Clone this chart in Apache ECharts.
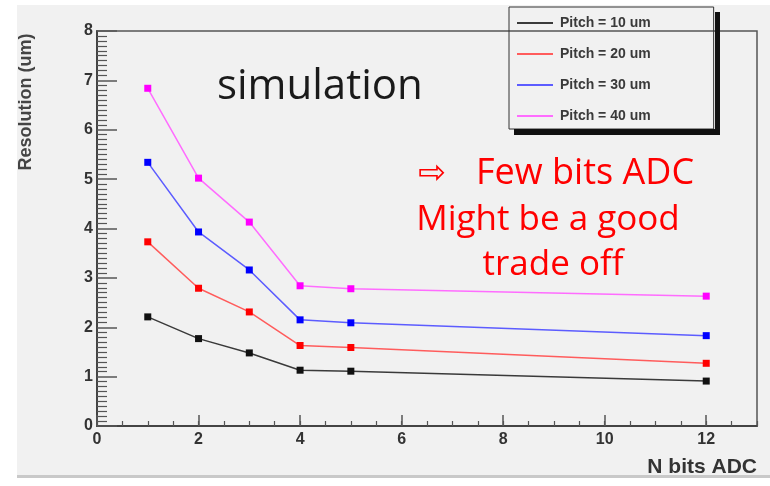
<!DOCTYPE html>
<html>
<head>
<meta charset="utf-8">
<script src="https://cdn.jsdelivr.net/npm/echarts@6/dist/echarts.min.js"></script>
<style>
  html, body { margin: 0; padding: 0; background: #ffffff; }
  #chart { width: 770px; height: 486px; }
</style>
</head>
<body>
<div id="chart"></div>
<script>
// Number of ADC bits simulated
const nBits = [1, 2, 3, 4, 5, 12];

// Resolution (um) for each strip pitch
const pitch10 = [2.21, 1.77, 1.48, 1.13, 1.11, 0.91];
const pitch20 = [3.73, 2.79, 2.31, 1.63, 1.59, 1.27];
const pitch30 = [5.34, 3.93, 3.16, 2.15, 2.09, 1.83];
const pitch40 = [6.84, 5.02, 4.13, 2.84, 2.78, 2.63];

const seriesNames = ['Pitch = 10 um', 'Pitch = 20 um', 'Pitch = 30 um', 'Pitch = 40 um'];
const xTickLabels = ['0', '2', '4', '6', '8', '10', '12'];
const yTickLabels = ['0', '1', '2', '3', '4', '5', '6', '7', '8'];

const lineColors = ['#3a3a3a', '#ff5c5c', '#5c5cff', '#ff6cff'];
const markColors = ['#111111', '#ff0000', '#0000ff', '#ff00ff'];
const allValues = [pitch10, pitch20, pitch30, pitch40];

const chart = echarts.init(document.getElementById('chart'), null, { renderer: 'canvas' });

const series = allValues.map((vals, i) => ({
  name: seriesNames[i],
  type: 'line',
  xAxisIndex: 0,
  yAxisIndex: 0,
  data: nBits.map((x, k) => [x, vals[k]]),
  symbol: 'rect',
  symbolSize: 7,
  showSymbol: true,
  lineStyle: { color: lineColors[i], width: 1.5 },
  itemStyle: { color: markColors[i] },
  emphasis: { disabled: true },
  animation: false,
  z: 5 + i
}));

const labelFont = {
  fontFamily: 'Liberation Sans, Arial, sans-serif',
  fontWeight: 'bold',
  fontSize: 16,
  color: '#333333'
};

const redText = {
  fontFamily: 'Open Sans, sans-serif',
  fontSize: 35,
  fill: '#ff0000',
  verticalAlign: 'middle'
};

const option = {
  animation: false,
  backgroundColor: 'transparent',
  grid: {
    left: 97, right: 13, top: 31, bottom: 60,
    show: true,
    borderColor: '#555555',
    borderWidth: 1.5,
    backgroundColor: 'transparent'
  },
  legend: {
    orient: 'vertical',
    left: 509,
    top: 7,
    padding: [9, 63, 6, 8],
    itemGap: 17,
    itemWidth: 36,
    itemHeight: 2,
    icon: 'rect',
    borderColor: '#333333',
    borderWidth: 1,
    backgroundColor: 'transparent',
    selectedMode: false,
    textStyle: {
      fontFamily: 'Liberation Sans, Arial, sans-serif',
      fontWeight: 'bold',
      fontSize: 14,
      color: '#3a3a3a',
      padding: [0, 0, 0, 2]
    },
    data: seriesNames.map((n, i) => ({ name: n, itemStyle: { color: lineColors[i] } }))
  },
  xAxis: [
    {
      type: 'value',
      min: 0, max: 13, interval: 2,
      position: 'bottom',
      splitLine: { show: false },
      axisLine: { show: true, onZero: false, lineStyle: { color: '#444444', width: 2 } },
      axisTick: { show: true, inside: true, length: 11, lineStyle: { color: '#555555', width: 1.5 } },
      axisLabel: {
        ...labelFont,
        margin: 6,
        showMaxLabel: false,
        formatter: v => {
          const idx = Math.round(v / 2);
          return (v % 2 === 0 && xTickLabels[idx] !== undefined) ? xTickLabels[idx] : '';
        }
      }
    },
    {
      type: 'value',
      min: 0, max: 13, interval: 0.5,
      position: 'bottom',
      splitLine: { show: false },
      axisLine: { show: false },
      axisTick: { show: true, inside: true, length: 5, lineStyle: { color: '#555555', width: 1.2 } },
      axisLabel: { show: false }
    }
  ],
  yAxis: {
    type: 'value',
    min: 0, max: 8, interval: 1,
    splitLine: { show: false },
    axisLine: { show: true, onZero: false, lineStyle: { color: '#444444', width: 2 } },
    axisTick: { show: true, inside: true, length: 20, lineStyle: { color: '#555555', width: 1.5 } },
    minorTick: { show: true, splitNumber: 10, length: 10, lineStyle: { color: '#555555', width: 1.2 } },
    axisLabel: {
      ...labelFont,
      margin: 4,
      formatter: v => yTickLabels[v] !== undefined ? yTickLabels[v] : ''
    }
  },
  graphic: [
    // canvas panel and its bottom shadow
    { type: 'rect', z: -100, silent: true, shape: { x: 17, y: 5, width: 753, height: 470 }, style: { fill: '#f1f1f1' } },
    { type: 'rect', z: -100, silent: true, shape: { x: 17, y: 475, width: 753, height: 3 }, style: { fill: '#c9c9c9' } },
    // legend box shadow
    { type: 'rect', z: 10, silent: true, shape: { x: 715, y: 12, width: 5, height: 123 }, style: { fill: '#111111' } },
    { type: 'rect', z: 10, silent: true, shape: { x: 514, y: 129, width: 206, height: 6 }, style: { fill: '#111111' } },
    // axis titles
    {
      type: 'text', z: 10, silent: true,
      x: 26, y: 102, rotation: Math.PI / 2,
      style: {
        text: 'Resolution (um)',
        fontFamily: 'Liberation Sans, Arial, sans-serif',
        fontWeight: 'bold', fontSize: 18, fill: '#444444',
        align: 'center', verticalAlign: 'middle'
      }
    },
    {
      type: 'text', z: 10, silent: true,
      x: 757, y: 467,
      style: {
        text: 'N bits ADC',
        fontFamily: 'Liberation Sans, Arial, sans-serif',
        fontWeight: 'bold', fontSize: 21, fill: '#333333',
        align: 'right', verticalAlign: 'middle'
      }
    },
    // annotations
    {
      type: 'text', z: 10, silent: true,
      x: 217, y: 87,
      style: {
        text: 'simulation',
        fontFamily: 'Open Sans, Noto Sans, sans-serif',
        fontSize: 42, fill: '#1a1a1a',
        align: 'left', verticalAlign: 'middle'
      }
    },
    {
      type: 'text', z: 10, silent: true,
      x: 432, y: 174,
      style: { ...redText, text: '\u21E8', fontFamily: 'DejaVu Sans, sans-serif', fontSize: 33, align: 'center' }
    },
    {
      type: 'text', z: 10, silent: true,
      x: 476, y: 174,
      style: { ...redText, text: 'Few bits ADC', fontSize: 36, align: 'left' }
    },
    {
      type: 'text', z: 10, silent: true,
      x: 548, y: 220,
      style: { ...redText, text: 'Might be a good', align: 'center' }
    },
    {
      type: 'text', z: 10, silent: true,
      x: 553, y: 265,
      style: { ...redText, text: 'trade off', align: 'center' }
    }
  ],
  series: series
};

chart.setOption(option);
</script>
</body>
</html>
